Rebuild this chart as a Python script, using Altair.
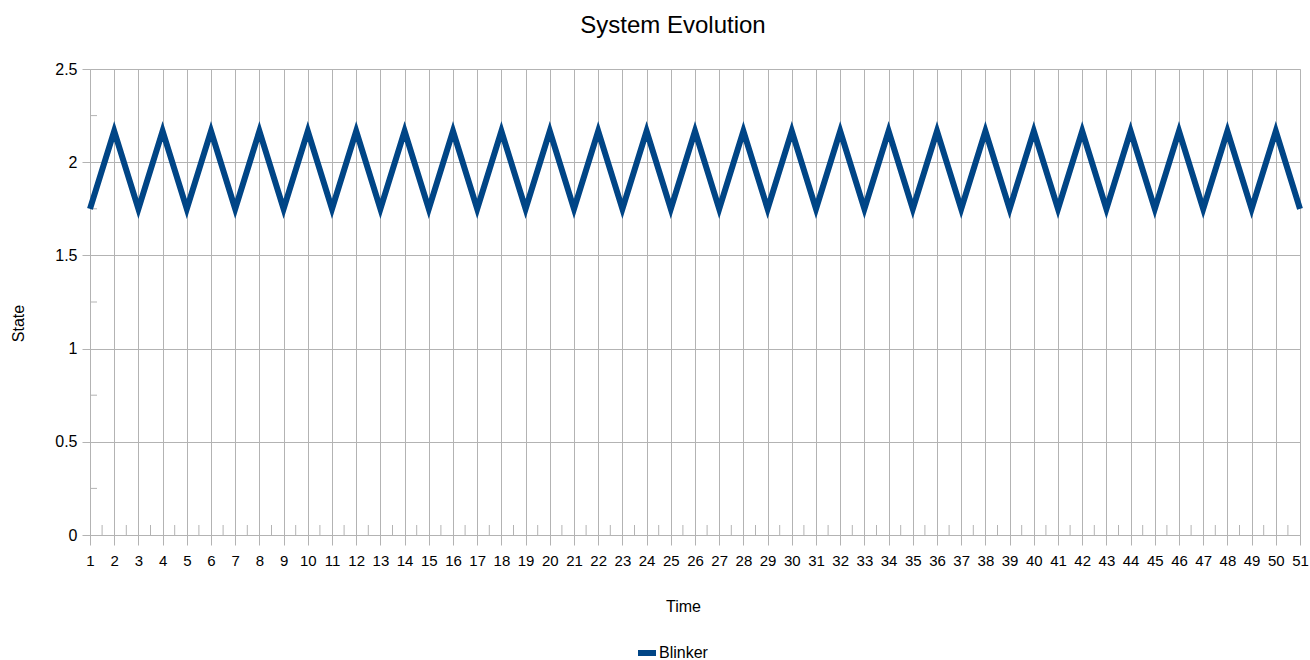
import altair as alt
import pandas as pd

# ---- data ----
time = [1, 2, 3, 4, 5, 6, 7, 8, 9, 10,
        11, 12, 13, 14, 15, 16, 17, 18, 19, 20,
        21, 22, 23, 24, 25, 26, 27, 28, 29, 30,
        31, 32, 33, 34, 35, 36, 37, 38, 39, 40,
        41, 42, 43, 44, 45, 46, 47, 48, 49, 50, 51]
state = [1.75, 2.1667, 1.75, 2.1667, 1.75, 2.1667, 1.75, 2.1667, 1.75, 2.1667,
         1.75, 2.1667, 1.75, 2.1667, 1.75, 2.1667, 1.75, 2.1667, 1.75, 2.1667,
         1.75, 2.1667, 1.75, 2.1667, 1.75, 2.1667, 1.75, 2.1667, 1.75, 2.1667,
         1.75, 2.1667, 1.75, 2.1667, 1.75, 2.1667, 1.75, 2.1667, 1.75, 2.1667,
         1.75, 2.1667, 1.75, 2.1667, 1.75, 2.1667, 1.75, 2.1667, 1.75, 2.1667, 1.75]
series_name = "Blinker"
x_ticks = time
y_ticks = [0, 0.5, 1, 1.5, 2, 2.5]
x_minor = [t + 0.5 for t in time[:-1]]
y_minor = [0.25, 0.75, 1.25, 1.75, 2.25]

FONT = "Liberation Sans, Arial, sans-serif"
GRID = "#b3b3b3"
W, H = 1210, 466

df = pd.DataFrame({"time": time, "state": state, "series": [series_name] * len(time)})
dfx = pd.DataFrame({"xm": x_minor})
dfy = pd.DataFrame({"ym": y_minor})

xscale = alt.Scale(domain=[1, 51], nice=False, zero=False)
yscale = alt.Scale(domain=[0, 2.5], nice=False, zero=True)

xaxis = alt.Axis(values=x_ticks, format="d", labelFontSize=15, labelFont=FONT,
                 labelColor="#000000", labelPadding=8, labelOverlap=False,
                 tickSize=10, tickColor=GRID, domainColor=GRID,
                 gridColor=GRID, grid=True,
                 title="Time", titleFont=FONT, titleFontSize=16,
                 titleFontWeight="normal", titleColor="#000000",
                 titleX=593, titleY=71, titleBaseline="middle",
                 labelFlush=False)
yaxis = alt.Axis(values=y_ticks, format="~g", labelFontSize=16, labelFont=FONT,
                 labelColor="#000000", labelPadding=5, labelOverlap=False,
                 tickSize=8, tickColor=GRID, domainColor=GRID,
                 gridColor=GRID, grid=True,
                 title="State", titleFont=FONT, titleFontSize=16,
                 titleFontWeight="normal", titleColor="#000000",
                 titleX=-72, titleY=254, titleAngle=-90,
                 titleAlign="center", titleBaseline="middle",
                 labelFlush=False)

line = alt.Chart(df).mark_line(strokeWidth=6, strokeCap="butt").encode(
    x=alt.X("time:Q", scale=xscale, axis=xaxis),
    y=alt.Y("state:Q", scale=yscale, axis=yaxis),
    color=alt.Color("series:N", scale=alt.Scale(range=["#004586"]),
                    legend=alt.Legend(title=None, orient="none", legendX=545, legendY=572,
                                      symbolType="stroke", symbolStrokeWidth=6,
                                      symbolSize=324, labelFont=FONT, labelFontSize=16,
                                      labelColor="#000000", labelOffset=0)),
)

xminor = alt.Chart(dfx).mark_rule(color=GRID, strokeWidth=1).encode(
    x=alt.X("xm:Q", scale=xscale, axis=xaxis),
    y=alt.value(H - 10),
    y2=alt.value(H),
)

yminor = alt.Chart(dfy).mark_rule(color=GRID, strokeWidth=1).encode(
    y=alt.Y("ym:Q", scale=yscale, axis=yaxis),
    x=alt.value(0),
    x2=alt.value(7),
)

chart = alt.layer(xminor, yminor, line).properties(
    width=W, height=H,
    autosize="none",
    padding={"left": 90, "top": 69, "right": 10, "bottom": 125},
    title=alt.TitleParams("System Evolution", font=FONT, fontSize=24, fontWeight="normal",
                          color="#000000", anchor="middle", dx=-22, dy=28, offset=32,
                          baseline="alphabetic"),
).configure_view(strokeWidth=0).configure(background="white")

chart.save("out.html", embed_options={"renderer": "svg", "actions": False})
